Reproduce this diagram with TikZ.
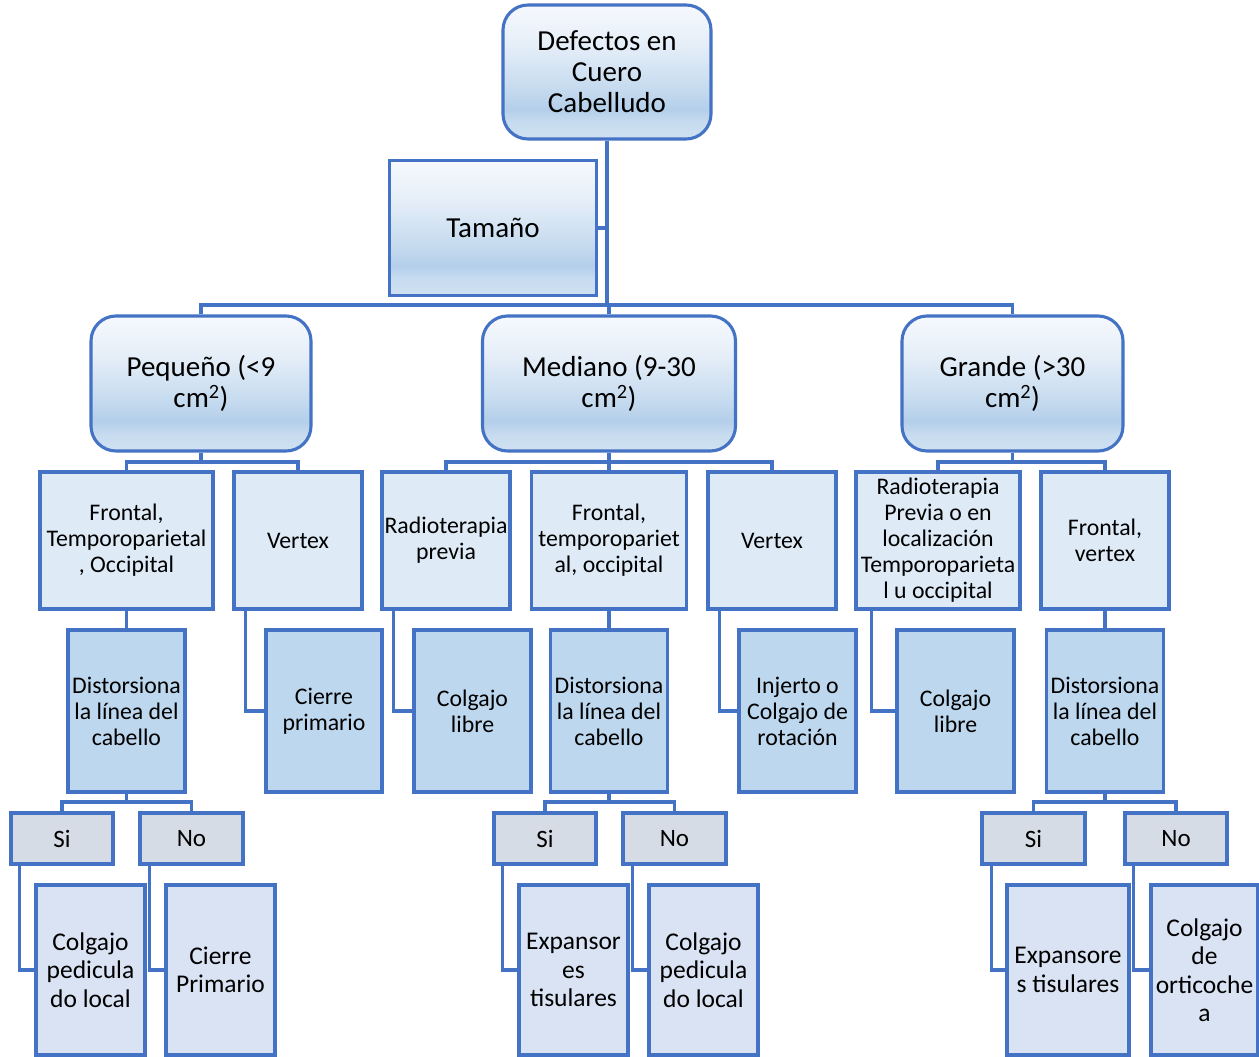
\documentclass[tikz,border=0pt]{standalone}
\usepackage{fontspec}
\setmainfont{Carlito}
\usetikzlibrary{calc}

\definecolor{bdr}{HTML}{4472C4}
\definecolor{lvtwo}{HTML}{DEEBF7}
\definecolor{lvthree}{HTML}{BDD7EE}
\definecolor{lvfour}{HTML}{D6DCE5}
\definecolor{lvfive}{HTML}{DAE3F3}
\definecolor{gtop}{HTML}{F6F9FD}
\definecolor{gup}{HTML}{E5EEF8}
\definecolor{gmid}{HTML}{C6DBEF}
\definecolor{gdark}{HTML}{B4CFEA}
\definecolor{glow}{HTML}{C8DCF0}
\definecolor{gbot}{HTML}{CFE1F2}

% soft vertical gradient used by the upper boxes (bottom -> top)
\pgfdeclareverticalshading{boxgrad}{100bp}{%
  color(0bp)=(gbot); color(25bp)=(gbot); color(31bp)=(glow);
  color(36bp)=(gdark); color(44bp)=(gmid); color(60bp)=(gup);
  color(75bp)=(gtop); color(100bp)=(gtop)}

\tikzset{
  box/.style={draw=bdr, line width=3.1pt, inner sep=0pt, align=center,
    text=black},
  gradbox/.style={box, shade, shading=boxgrad,
    font=\fontsize{29}{31}\selectfont},
  roundbox/.style={gradbox, rounded corners=25pt},
  levtwo/.style={box, fill=lvtwo, minimum height=137pt,
    font=\fontsize{23.8}{26}\selectfont},
  levthree/.style={box, fill=lvthree, minimum width=117pt,
    minimum height=162pt, font=\fontsize{23.8}{26}\selectfont},
  levfour/.style={box, fill=lvfour, minimum height=51pt,
    font=\fontsize{25}{28}\selectfont},
  levfive/.style={box, fill=lvfive, minimum width=109pt,
    minimum height=170pt, font=\fontsize{25.5}{28.5}\selectfont},
  conn/.style={draw=bdr, line width=3.1pt},
}

\begin{document}
\begin{tikzpicture}[x=1pt, y=-1pt]
\useasboundingbox[fill=white] (0,0) rectangle (1259,1057);

% top of the tree
\node[roundbox, minimum width=208pt, minimum height=134pt] (root) at (607,72)
  {Defectos en\\Cuero\\Cabelludo};
\node[gradbox, minimum width=207pt, minimum height=135pt] (tam) at (493,228)
  {Tamaño};

% size classes
\node[roundbox, minimum width=220pt, minimum height=135pt] (peq) at (201,383.5)
  {Pequeño (<9\\cm\textsuperscript{2})};
\node[roundbox, minimum width=253pt, minimum height=135pt] (med) at (609,383.5)
  {Mediano (9-30\\cm\textsuperscript{2})};
\node[roundbox, minimum width=221pt, minimum height=135pt] (gra) at (1012.5,383.5)
  {Grande (>30\\cm\textsuperscript{2})};

% locations
\node[levtwo, minimum width=173pt] (f1) at (126.5,540.5)
  {Frontal,\\Temporoparietal\\, Occipital};
\node[levtwo, minimum width=128pt] (v1) at (298,540.5) {Vertex};
\node[levtwo, minimum width=128pt] (r1) at (446,540.5) {Radioterapia\\previa};
\node[levtwo, minimum width=155pt] (f2) at (609,540.5)
  {Frontal,\\temporopariet\\al, occipital};
\node[levtwo, minimum width=128pt] (v2) at (772,540.5) {Vertex};
\node[levtwo, minimum width=164pt] (r2) at (938,540.5)
  {Radioterapia\\Previa o en\\localización\\Temporoparieta\\l u occipital};
\node[levtwo, minimum width=128pt] (f3) at (1105,540.5) {Frontal,\\vertex};

% decisions / treatments
\node[levthree] (d1) at (126.5,711) {Distorsiona\\la línea del\\cabello};
\node[levthree, minimum width=116pt] (c1) at (324,711) {Cierre\\primario};
\node[levthree] (cl1) at (472.5,711) {Colgajo\\libre};
\node[levthree] (d2) at (609,711) {Distorsiona\\la línea del\\cabello};
\node[levthree] (inj) at (797.5,711) {Injerto o\\Colgajo de\\rotación};
\node[levthree] (cl2) at (955.5,711) {Colgajo\\libre};
\node[levthree] (d3) at (1105,711) {Distorsiona\\la línea del\\cabello};

% answers
\node[levfour, minimum width=102pt] (s1) at (62,838.5) {Si};
\node[levfour, minimum width=103pt] (n1) at (191.5,838.5) {No};
\node[levfour, minimum width=102pt] (s2) at (545,838.5) {Si};
\node[levfour, minimum width=103pt] (n2) at (674.5,838.5) {No};
\node[levfour, minimum width=103pt] (s3) at (1033.5,838.5) {Si};
\node[levfour, minimum width=102pt] (n3) at (1176,838.5) {No};

% final treatments
\node[levfive] (e1) at (90.5,970) {Colgajo\\pedicula\\do local};
\node[levfive] (e2) at (220.5,970) {Cierre\\Primario};
\node[levfive] (e3) at (573.5,970) {Expansor\\es\\tisulares};
\node[levfive] (e4) at (703.5,970) {Colgajo\\pedicula\\do local};
\node[levfive, minimum width=122pt] (e5) at (1068,970) {Expansore\\s tisulares};
\node[levfive, minimum width=107pt] (e6) at (1204.5,970)
  {Colgajo\\de\\orticoche\\a};

% bus junctions
\coordinate (j0) at (607,305);
\coordinate (jp) at (201,462);
\coordinate (jm) at (609,462);
\coordinate (jg) at (1012.5,462);
\coordinate (jd1) at (126.5,802);
\coordinate (jd2) at (609,802);
\coordinate (jd3) at (1105,802);

% connectors
\draw[conn] (root.south) -- (j0);
\draw[conn] (tam.east) -- (tam.east -| root.south);
\draw[conn] (peq.north) |- (j0) -| (gra.north);
\draw[conn] (med.north) -- (med.north |- j0);

\draw[conn] (peq.south) -- (jp);
\draw[conn] (f1.north) |- (jp) -| (v1.north);
\draw[conn] (med.south) -- (jm) -- (f2.north);
\draw[conn] (r1.north) |- (jm) -| (v2.north);
\draw[conn] (gra.south) -- (jg);
\draw[conn] (r2.north) |- (jg) -| (f3.north);

\draw[conn] (f1.south) -- (d1.north);
\draw[conn] (f2.south) -- (d2.north);
\draw[conn] (f3.south) -- (d3.north);
\draw[conn] ([xshift=13pt]v1.south west) |- (c1.west);
\draw[conn] ([xshift=13pt]r1.south west) |- (cl1.west);
\draw[conn] ([xshift=13pt]v2.south west) |- (inj.west);
\draw[conn] ([xshift=17pt]r2.south west) |- (cl2.west);

\draw[conn] (d1.south) -- (jd1);
\draw[conn] (s1.north) |- (jd1) -| (n1.north);
\draw[conn] (d2.south) -- (jd2);
\draw[conn] (s2.north) |- (jd2) -| (n2.north);
\draw[conn] (d3.south) -- (jd3);
\draw[conn] (s3.north) |- (jd3) -| (n3.north);

\draw[conn] ([xshift=10pt]s1.south west) |- (e1.west);
\draw[conn] ([xshift=11pt]n1.south west) |- (e2.west);
\draw[conn] ([xshift=10pt]s2.south west) |- (e3.west);
\draw[conn] ([xshift=11pt]n2.south west) |- (e4.west);
\draw[conn] ([xshift=11pt]s3.south west) |- (e5.west);
\draw[conn] ([xshift=10pt]n3.south west) |- (e6.west);
\end{tikzpicture}
\end{document}
